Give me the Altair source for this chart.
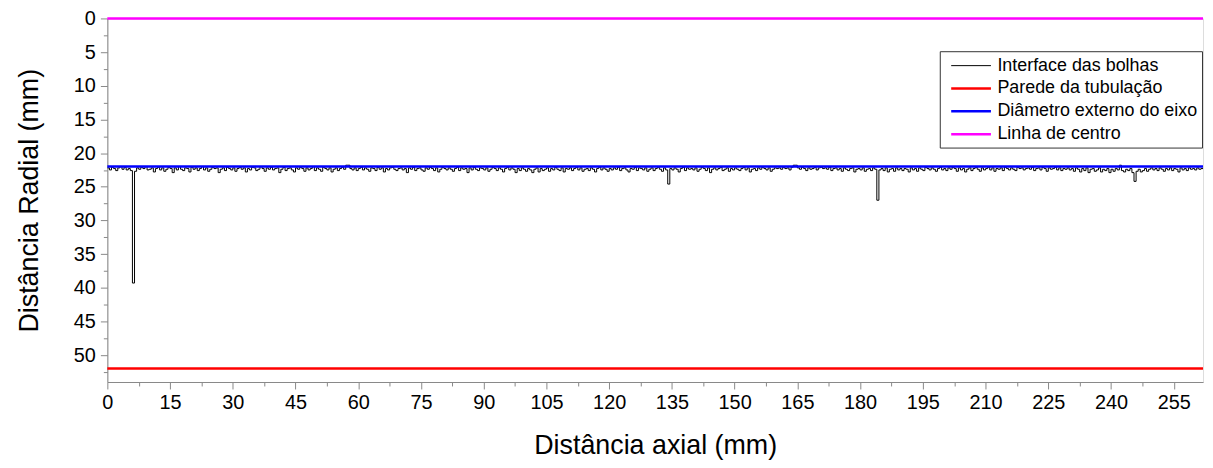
import altair as alt
import pandas as pd

# ---------------- data ----------------
SERIES = ["Interface das bolhas", "Parede da tubulação",
          "Diâmetro externo do eixo", "Linha de centro"]
COLORS = ["#000000", "#ff0000", "#0000ff", "#ff00ff"]
WIDTHS = [1.0, 2.5, 2.5, 2.5]

# horizontal reference lines (mm)
HLINE_SERIES = ["Parede da tubulação", "Diâmetro externo do eixo", "Linha de centro"]
HLINE_Y = [52.0, 22.0, 0.0]

# bubble interface radial position, sampled every 0.5 mm of axial distance
X_STEP = 0.5
INTERFACE_Y = [
    22.2, 22.5, 22.1, 22.3, 22.6, 22.2, 22.0, 22.4, 22.1, 22.5, 22.3, 22.6, 39.3, 22.7, 22.2, 22.4, 22.1, 22.3, 22.0, 22.5,
    22.4, 22.2, 22.8, 22.3, 22.1, 22.5, 22.2, 22.7, 22.4, 22.1, 22.3, 22.9, 22.2, 22.5, 22.0, 22.4, 22.6, 22.2, 22.3, 22.8,
    22.1, 22.4, 22.2, 22.6, 22.3, 22.0, 22.5, 22.2, 22.7, 22.4, 22.1, 22.3, 22.2, 22.9, 22.4, 22.2, 22.6, 22.1, 22.3, 22.5,
    22.2, 22.7, 22.3, 22.1, 22.4, 22.2, 22.8, 22.3, 22.5, 22.1, 22.2, 22.6, 22.4, 22.0, 22.3, 22.7, 22.2, 22.4, 22.1, 22.5,
    22.3, 22.2, 22.9, 22.4, 22.1, 22.6, 22.3, 22.2, 22.5, 22.8, 22.2, 22.4, 22.1, 22.3, 22.7, 22.2, 22.5, 22.3, 22.0, 22.6,
    22.2, 22.4, 22.7, 22.1, 22.3, 22.5, 22.2, 22.8, 22.4, 22.2, 22.6, 22.3, 22.1, 22.4, 21.8, 21.8, 22.3, 22.5, 22.2, 22.6,
    22.3, 22.1, 22.5, 22.2, 22.4, 22.7, 22.2, 22.3, 22.6, 22.1, 22.4, 22.2, 22.8, 22.3, 22.5, 22.2, 22.1, 22.4, 22.6, 22.3,
    22.2, 22.5, 22.3, 22.9, 22.2, 22.4, 22.1, 22.6, 22.3, 22.2, 22.5, 22.7, 22.2, 22.4, 22.1, 22.3, 22.6, 22.2, 22.8, 22.4,
    22.1, 22.3, 22.5, 22.2, 22.4, 22.7, 22.3, 22.1, 22.6, 22.2, 22.4, 22.3, 22.9, 22.2, 22.5, 22.1, 22.4, 22.6, 22.2, 22.3,
    22.5, 22.2, 22.7, 22.4, 22.1, 22.3, 22.6, 22.2, 22.4, 22.8, 22.3, 22.1, 22.5, 22.2, 22.4, 22.9, 22.3, 22.6, 22.2, 22.4,
    22.7, 22.3, 22.5, 22.9, 22.4, 22.2, 22.8, 22.3, 22.6, 22.4, 22.2, 22.7, 22.3, 22.5, 22.1, 22.4, 22.6, 22.2, 22.8, 22.3,
    22.4, 22.2, 22.6, 22.3, 22.1, 22.5, 22.2, 22.7, 22.4, 22.3, 22.6, 22.2, 22.4, 22.8, 22.3, 22.1, 22.5, 22.2, 22.4, 22.7,
    22.3, 22.5, 22.2, 22.4, 22.1, 22.6, 22.3, 22.2, 22.5, 22.8, 22.3, 22.4, 22.1, 22.6, 22.2, 22.3, 22.5, 22.2, 22.7, 22.4,
    22.2, 22.6, 22.3, 22.1, 22.4, 22.7, 22.2, 22.5, 24.6, 22.3, 22.5, 22.2, 22.4, 22.8, 22.3, 22.1, 22.6, 22.2, 22.4, 22.3,
    22.5, 22.2, 22.7, 22.4, 22.1, 22.3, 22.6, 22.2, 22.9, 22.4, 22.2, 22.5, 22.3, 22.1, 22.6, 22.4, 22.2, 22.7, 22.3, 22.5,
    22.2, 22.4, 22.6, 22.3, 22.1, 22.5, 22.2, 22.8, 22.4, 22.3, 22.6, 22.2, 22.4, 22.1, 22.3, 22.5, 22.2, 22.7, 22.4, 22.2,
    22.3, 22.2, 22.4, 22.1, 22.3, 22.2, 22.5, 22.1, 21.8, 21.8, 22.2, 22.4, 22.1, 22.3, 22.6, 22.2, 22.4, 22.3, 22.1, 22.5,
    22.2, 22.1, 22.3, 22.2, 22.4, 22.1, 22.6, 22.3, 22.2, 22.5, 22.3, 22.7, 22.2, 22.4, 22.6, 22.3, 22.2, 22.8, 22.4, 22.3,
    22.5, 22.2, 22.7, 22.4, 22.3, 22.6, 22.2, 22.4, 27.0, 22.5, 22.3, 22.6, 22.2, 22.8, 22.4, 22.3, 22.7, 22.2, 22.5, 22.3,
    22.6, 22.3, 22.4, 22.8, 22.2, 22.5, 22.3, 22.7, 22.2, 22.4, 22.6, 22.1, 22.3, 22.5, 22.2, 22.4, 22.7, 22.3, 22.1, 22.5,
    22.3, 22.6, 22.2, 22.4, 22.1, 22.3, 22.7, 22.2, 22.5, 22.3, 22.8, 22.4, 22.2, 22.6, 22.3, 22.1, 22.4, 22.7, 22.2, 22.5,
    22.3, 22.1, 22.5, 22.2, 22.7, 22.3, 22.4, 22.2, 22.6, 22.1, 22.3, 22.5, 22.2, 22.4, 22.6, 22.1, 22.3, 22.2, 22.5, 22.3,
    22.2, 22.4, 22.1, 22.6, 22.3, 22.2, 22.5, 22.1, 22.3, 22.7, 22.2, 22.4, 22.3, 22.1, 22.5, 22.2, 22.6, 22.3, 22.4, 22.2,
    22.5, 22.3, 22.7, 22.2, 22.4, 22.8, 22.3, 22.6, 22.2, 22.9, 22.4, 22.3, 22.7, 22.5, 22.2, 22.8, 22.4, 22.6, 22.3, 22.9,
    22.4, 22.7, 22.3, 22.5, 21.8, 22.6, 22.8, 22.4, 22.6, 22.3, 22.9, 24.2, 22.7, 22.4, 22.8, 22.6, 22.3, 22.7, 22.4, 22.2,
    22.5, 22.3, 22.6, 22.2, 22.4, 22.7, 22.3, 22.5, 22.2, 22.6, 22.3, 22.4, 22.8, 22.2, 22.5, 22.3, 22.6, 22.2, 22.4, 22.3,
    22.5, 22.2, 22.4, 22.3, 22.2,
]

X_TICKS = [i * 7.5 for i in range(35)]     # 0 .. 255 (labels every 15)
Y_TICKS = [i * 2.5 for i in range(22)]     # 0 .. 52.5 (labels every 5)
X_DOMAIN = [0, 262]
Y_DOMAIN = [0, 54]

# ---------------- tables ----------------
interface_df = pd.DataFrame({
    "x": [i * X_STEP for i in range(len(INTERFACE_Y))],
    "y": INTERFACE_Y,
    "series": SERIES[0],
})
hline_df = pd.DataFrame({"y": HLINE_Y, "series": HLINE_SERIES})

FONT = "Liberation Sans"
AXIS_COLOR = "#333333"

legend = alt.Legend(
    title=None, orient="none", legendX=838, legendY=33,
    symbolType="M-0.4,0H3.6", symbolSize=400,
    symbolFillColor="transparent",
    labelFont=FONT, labelFontSize=18, labelColor="black", labelOffset=31,
    labelLimit=0, rowPadding=2, padding=4,
    strokeColor="#333333", fillColor="white", cornerRadius=0,
)
color = alt.Color("series:N", scale=alt.Scale(domain=SERIES, range=COLORS), legend=legend)
width = alt.StrokeWidth(
    "series:N",
    scale=alt.Scale(type="ordinal", domain=SERIES, range=WIDTHS),
    legend=legend,
)

x_enc = alt.X(
    "x:Q",
    scale=alt.Scale(domain=X_DOMAIN, nice=False, zero=False),
    axis=alt.Axis(
        title="Distância axial (mm)", values=X_TICKS,
        labelExpr="datum.value % 15 === 0 ? datum.label : ''",
        tickSize={"condition": {"test": "datum.value % 15 === 0", "value": 7}, "value": 4},
        labelOverlap=False, labelFlush=False, grid=False,
        labelFontSize=20, titleFontSize=27, titleFontWeight="normal",
        labelPadding=4, titlePadding=20,
    ),
)
y_scale = alt.Scale(domain=Y_DOMAIN, reverse=True, nice=False, zero=False)
y_axis = alt.Axis(
    title="Distância Radial (mm)", values=Y_TICKS,
    labelExpr="datum.value % 5 === 0 ? datum.label : ''",
    tickSize={"condition": {"test": "datum.value % 5 === 0", "value": 7}, "value": 4},
    labelOverlap=False, labelFlush=False, grid=False,
    labelFontSize=20, titleFontSize=27, titleFontWeight="normal",
    labelPadding=5, titlePadding=30,
)

interface = alt.Chart(interface_df).mark_line(
    interpolate="step-after", clip=True
).encode(
    x=x_enc,
    y=alt.Y("y:Q", scale=y_scale, axis=y_axis),
    color=color,
    strokeWidth=width,
)

hlines = alt.Chart(hline_df).mark_rule().encode(
    y=alt.Y("y:Q", scale=y_scale, axis=y_axis),
    color=color,
    strokeWidth=width,
)

chart = alt.layer(interface, hlines).properties(
    width=1103, height=366,
    padding={"left": 100, "top": 9, "right": 2, "bottom": 77},
    autosize=alt.AutoSizeParams(type="none"),
).configure_view(stroke=None).configure_axis(
    labelFont=FONT, titleFont=FONT, labelColor="black", titleColor="black",
    titleFontWeight="normal", domainColor=AXIS_COLOR, tickColor=AXIS_COLOR,
    domainWidth=1.5, tickWidth=1.5,
).configure(background="white")

chart.save("out.html", embed_options={"renderer": "svg", "actions": False})
